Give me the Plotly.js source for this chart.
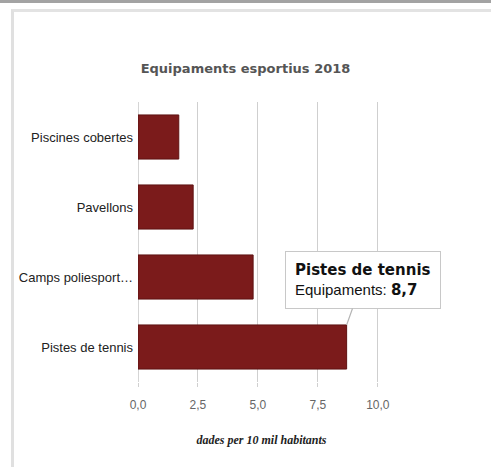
<!DOCTYPE html>
<html>
<head>
<meta charset="utf-8">
<script src="https://cdn.plot.ly/plotly-3.0.1.min.js"></script>
<style>
  html, body { margin: 0; padding: 0; background: #fff; }
  #wrap { position: relative; width: 491px; height: 467px; overflow: hidden; }
  #topbar { position: absolute; left: 0; top: 0; width: 491px; height: 3px; background: #a3a3a3; }
  #frame { position: absolute; left: 11px; top: 9px; width: 500px; height: 500px;
           border-left: 3px solid #e0e0e0; border-top: 3px solid #e3e3e3; box-sizing: border-box; }
  #chart { position: absolute; left: 0; top: 0; width: 491px; height: 467px; }
</style>
</head>
<body>
<div id="wrap">
  <div id="topbar"></div>
  <div id="frame"></div>
  <div id="chart"></div>
</div>
<script>
const categories = ["Piscines cobertes", "Pavellons", "Camps poliesport\u2026", "Pistes de tennis"];
const values = [1.7, 2.3, 4.8, 8.7];
const tickValues = [0, 2.5, 5, 7.5, 10];
const tickLabels = ["0,0", "2,5", "5,0", "7,5", "10,0"];
const chartTitle = "Equipaments esportius 2018";
const axisTitle = "dades per 10 mil habitants";
const seriesName = "Equipaments";
const highlightIndex = 3;

const heavy = "font-family:'DejaVu Sans';font-weight:bold";
const hl = categories[highlightIndex];
const hv = values[highlightIndex].toFixed(1).replace('.', ',');

const trace = {
  type: 'bar',
  orientation: 'h',
  x: values,
  y: categories,
  marker: { color: '#7b1b1b', line: { color: '#5e1212', width: 1 } },
  hoverinfo: 'none'
};

const layout = {
  width: 491, height: 467,
  paper_bgcolor: 'rgba(0,0,0,0)',
  plot_bgcolor: 'rgba(0,0,0,0)',
  margin: { l: 138, r: 106, t: 102, b: 85 },
  bargap: 0.37,
  showlegend: false,
  separators: ',.',
  title: {
    text: chartTitle,
    font: { family: 'DejaVu Sans', size: 13, color: '#555', weight: 'bold' },
    x: 0.5, xref: 'container', xanchor: 'center',
    y: 1 - 68 / 467, yref: 'container', yanchor: 'middle'
  },
  xaxis: {
    range: [0, 10.3],
    tickvals: tickValues,
    ticktext: tickLabels,
    showgrid: true, gridcolor: '#cfcfcf', gridwidth: 1,
    zeroline: true, zerolinecolor: '#d5d5d5', zerolinewidth: 1,
    showline: false,
    ticks: 'outside', ticklen: 4, tickcolor: '#d0d0d0',
    ticklabelstandoff: 8,
    tickfont: { family: 'Liberation Sans, Arial', size: 12, color: '#666' },
    title: {
      text: axisTitle,
      font: { family: 'Liberation Serif', size: 12, color: '#222', style: 'italic', weight: 'bold' },
      standoff: 24
    },
    fixedrange: true
  },
  yaxis: {
    range: [categories.length - 0.5, -0.5],
    showgrid: false, zeroline: false, showline: false,
    ticks: '',
    ticklabelstandoff: 4,
    tickfont: { family: 'Liberation Sans, Arial', size: 13, color: '#222' },
    fixedrange: true
  },
  annotations: [{
    x: values[highlightIndex], y: hl, xref: 'x', yref: 'y',
    yshift: 22,
    ax: 16, ay: -45,
    showarrow: true, arrowhead: 0, arrowwidth: 1.2, arrowcolor: '#b5b5b5',
    text: '<span style="' + heavy + '">' + hl + '</span><br>' + seriesName + ': <span style="' + heavy + '">' + hv + '</span>',
    align: 'left',
    font: { family: 'Liberation Sans, Arial', size: 15, color: '#111' },
    bgcolor: '#fff', bordercolor: '#c8c8c8', borderwidth: 1, borderpad: 9
  }]
};

Plotly.newPlot('chart', [trace], layout, { displayModeBar: false, staticPlot: true });
</script>
</body>
</html>
